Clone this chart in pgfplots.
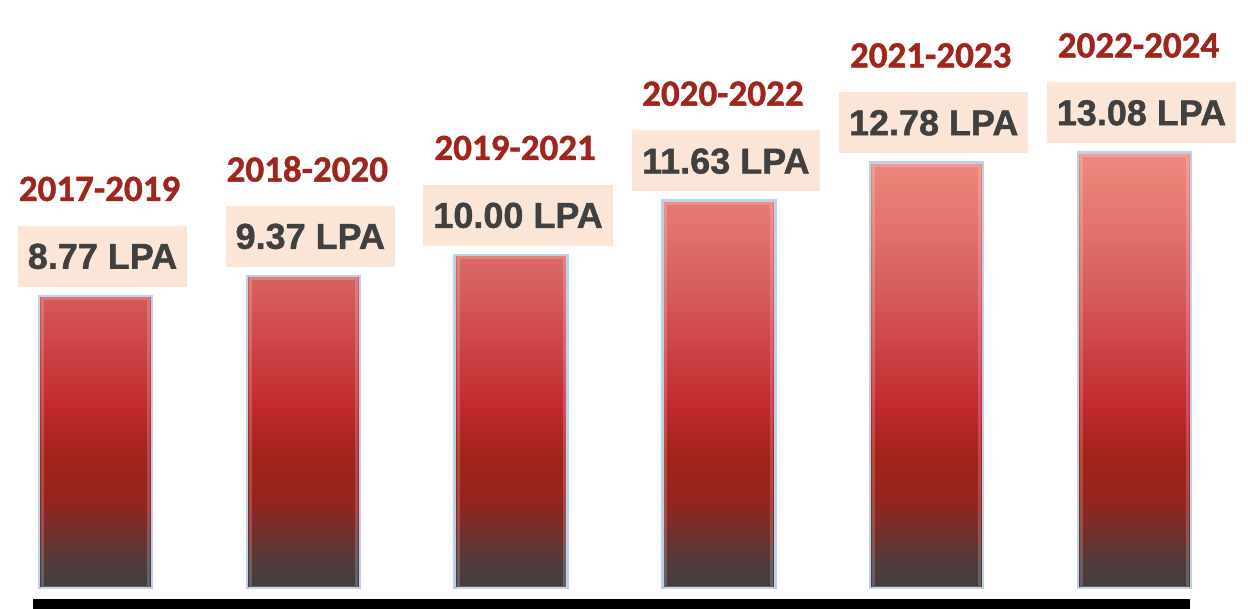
\documentclass[border=0pt]{standalone}
\usepackage{pgfplots}
\pgfplotsset{compat=1.18}
\usepackage{fontspec}
\setmainfont{Liberation Sans}[BoldFeatures={FakeBold=1.2}]
\newfontfamily\carlito{Carlito}[BoldFeatures={FakeBold=1.2}]
\definecolor{yearred}{RGB}{160,37,28}
\definecolor{valgray}{RGB}{64,64,64}
\definecolor{boxfill}{RGB}{251,229,214}
\definecolor{glow}{RGB}{190,208,236}
\pgfdeclareverticalshading{barshade}{100bp}{%
  color(0bp)=(rgb,255:red,67;green,62;blue,62);
  color(25bp)=(rgb,255:red,67;green,62;blue,62);
  color(27.5bp)=(rgb,255:red,78;green,60;blue,60);
  color(35bp)=(rgb,255:red,148;green,36;blue,28);
  color(40bp)=(rgb,255:red,162;green,35;blue,26);
  color(46bp)=(rgb,255:red,194;green,42;blue,48);
  color(60bp)=(rgb,255:red,216;green,96;blue,92);
  color(75bp)=(rgb,255:red,238;green,140;blue,128);
  color(100bp)=(rgb,255:red,238;green,140;blue,128)}
\begin{document}
\begin{tikzpicture}
\useasboundingbox (0,0) rectangle (1248pt,609pt);
\fill[black] (33pt,0pt) rectangle (1190pt,10pt);
\begin{axis}[
  at={(2pt,21pt)}, anchor=south west,
  scale only axis, width=1226pt, height=499.5pt,
  xmin=-0.45, xmax=5.45, ymin=0, ymax=15,
  axis lines=none, clip=false,
  bar width=113pt,
  /pgf/number format/assume math mode=true,
]
% bars with value boxes
\addplot[ybar, bar shift=0pt, shading=barshade, draw=glow, line width=2.5pt,
  nodes near coords={\fontsize{36}{36}\selectfont\bfseries\pgfmathprintnumber[fixed,zerofill,precision=2,assume math mode=true]{\pgfplotspointmeta}~LPA},
  every node near coord/.append style={anchor=south, xshift=7pt, yshift=8pt,
    fill=boxfill, text=valgray, font=\fontsize{36}{36}\selectfont\bfseries,
    inner xsep=10pt, minimum height=61pt, text depth=0pt}]
coordinates {(0,8.77) (1,9.37) (2,10.00) (3,11.63) (4,12.78) (5,13.08)};
% bevel highlight
\addplot[ybar, bar shift=0pt, bar width=106pt, draw=white, draw opacity=0.18, line width=3pt, fill=none, forget plot]
coordinates {(0,8.68) (1,9.28) (2,9.91) (3,11.54) (4,12.69) (5,12.99)};
% period labels
\addplot[ybar, bar shift=0pt, draw=none, fill=none, point meta=explicit symbolic,
  nodes near coords,
  every node near coord/.append style={anchor=center, xshift=4pt, yshift=107pt,
    text=yearred, font=\carlito\fontsize{37}{37}\selectfont\bfseries}]
coordinates {(0,8.77) [2017-2019] (1,9.37) [2018-2020] (2,10.00) [2019-2021]
  (3,11.63) [2020-2022] (4,12.78) [2021-2023] (5,13.08) [2022-2024]};
\end{axis}
\end{tikzpicture}
\end{document}
